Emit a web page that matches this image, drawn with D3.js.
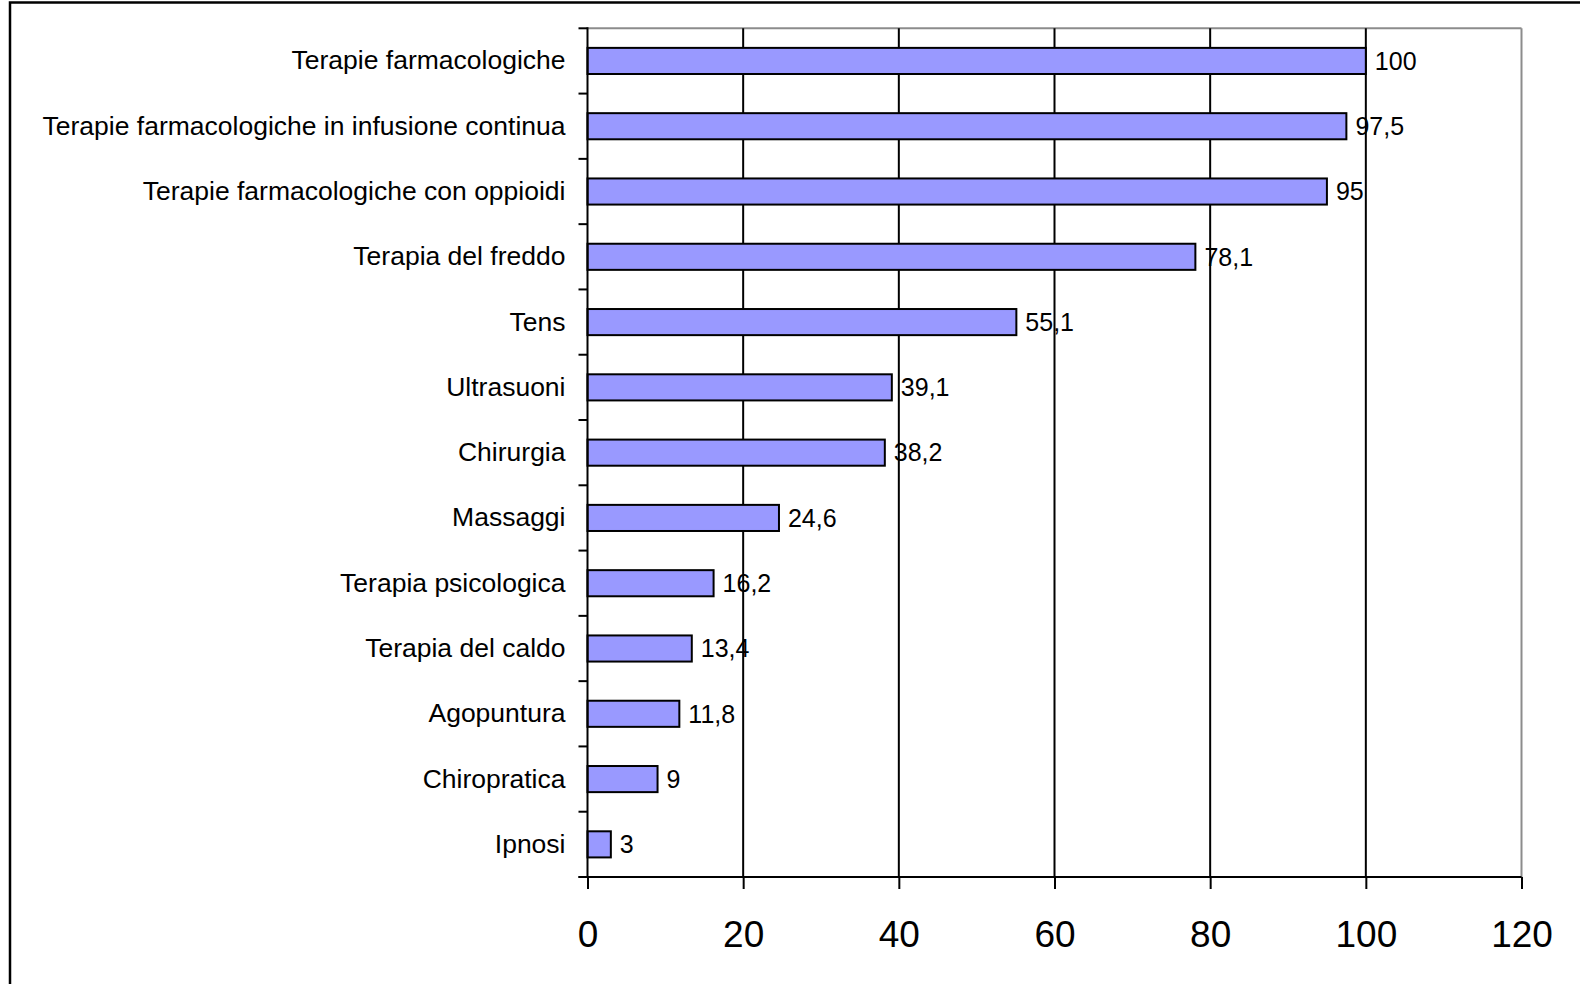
<!DOCTYPE html>
<html><head><meta charset="utf-8">
<script src="https://cdn.jsdelivr.net/npm/d3@7"></script>
<style>html,body{margin:0;padding:0;background:#fff;overflow:hidden}</style>
</head><body>
<svg id="chart" width="1580" height="984"></svg>
<script>
const categories = [
  "Terapie farmacologiche",
  "Terapie farmacologiche in infusione continua",
  "Terapie farmacologiche con oppioidi",
  "Terapia del freddo",
  "Tens",
  "Ultrasuoni",
  "Chirurgia",
  "Massaggi",
  "Terapia psicologica",
  "Terapia del caldo",
  "Agopuntura",
  "Chiropratica",
  "Ipnosi"
];
const values = [100, 97.5, 95, 78.1, 55.1, 39.1, 38.2, 24.6, 16.2, 13.4, 11.8, 9, 3];
const xTicks = [0, 20, 40, 60, 80, 100, 120];

const W = 1580, H = 984;
const font = "'Liberation Sans', Arial, Helvetica, sans-serif";
const svg = d3.select("#chart").style("font-family", font);
const plot = {left: 587.5, right: 1521.5, top: 28.3, bottom: 877};

const x = d3.scaleLinear().domain([0, 120]).range([plot.left, plot.right]);
const y = d3.scaleBand().domain(categories).range([plot.top, plot.bottom])
  .paddingInner(0.6).paddingOuter(0.3);
const fmt = v => String(v).replace(".", ",");

// outer frame (extends past the visible area on right and bottom)
svg.append("rect").attr("x", 10).attr("y", 2.5).attr("width", W + 20).attr("height", H + 20)
  .attr("fill", "#fff").attr("stroke", "#000").attr("stroke-width", 2.5);

// plot area border (gray top and right)
svg.append("line").attr("x1", x(0)).attr("x2", x(120)).attr("y1", plot.top).attr("y2", plot.top)
  .attr("stroke", "#8c8c8c").attr("stroke-width", 2);
svg.append("line").attr("x1", x(120)).attr("x2", x(120)).attr("y1", plot.top).attr("y2", plot.bottom)
  .attr("stroke", "#8c8c8c").attr("stroke-width", 2);

// vertical gridlines
svg.append("g").selectAll("line").data(xTicks.filter(t => t > 0 && t < 120)).join("line")
  .attr("x1", d => x(d)).attr("x2", d => x(d)).attr("y1", plot.top).attr("y2", plot.bottom)
  .attr("stroke", "#000").attr("stroke-width", 2);

// bars
svg.append("g").selectAll("rect").data(categories).join("rect")
  .attr("x", x(0)).attr("y", (d) => y(d))
  .attr("width", (d, i) => x(values[i]) - x(0)).attr("height", y.bandwidth())
  .attr("fill", "#9999ff").attr("stroke", "#000").attr("stroke-width", 2);

// value labels
svg.append("g").selectAll("text").data(categories).join("text")
  .attr("x", (d, i) => x(values[i]) + 9).attr("y", d => y(d) + y.bandwidth() / 2)
  .attr("dy", "0.35em").attr("font-size", 25).attr("fill", "#000")
  .text((d, i) => fmt(values[i]));

// x axis
const xAxis = svg.append("g").attr("transform", `translate(0,${plot.bottom})`)
  .call(d3.axisBottom(x).tickValues(xTicks).tickSize(12).tickSizeOuter(0).tickPadding(31.5));
xAxis.select(".domain").remove();
xAxis.selectAll(".tick line").attr("stroke", "#000").attr("stroke-width", 2);
xAxis.selectAll(".tick text").attr("font-size", 37).attr("font-family", font).attr("fill", "#000");
svg.append("line").attr("x1", plot.left - 9).attr("x2", x(120)).attr("y1", plot.bottom).attr("y2", plot.bottom)
  .attr("stroke", "#000").attr("stroke-width", 2);

// y axis labels
const yAxis = svg.append("g").attr("transform", `translate(${plot.left},0)`)
  .call(d3.axisLeft(y).tickSize(0).tickPadding(22));
yAxis.select(".domain").remove();
yAxis.selectAll(".tick text").attr("font-size", 26.5).attr("font-family", font).attr("fill", "#000");

// y axis line and boundary ticks
svg.append("line").attr("x1", plot.left).attr("x2", plot.left).attr("y1", plot.top - 1).attr("y2", plot.bottom + 1)
  .attr("stroke", "#000").attr("stroke-width", 2);
const bounds = d3.range(categories.length + 1).map(i => y.range()[0] + i * y.step());
svg.append("g").selectAll("line").data(bounds).join("line")
  .attr("x1", plot.left - 9).attr("x2", plot.left).attr("y1", d => d).attr("y2", d => d)
  .attr("stroke", "#000").attr("stroke-width", 2);
</script>
</body></html>
